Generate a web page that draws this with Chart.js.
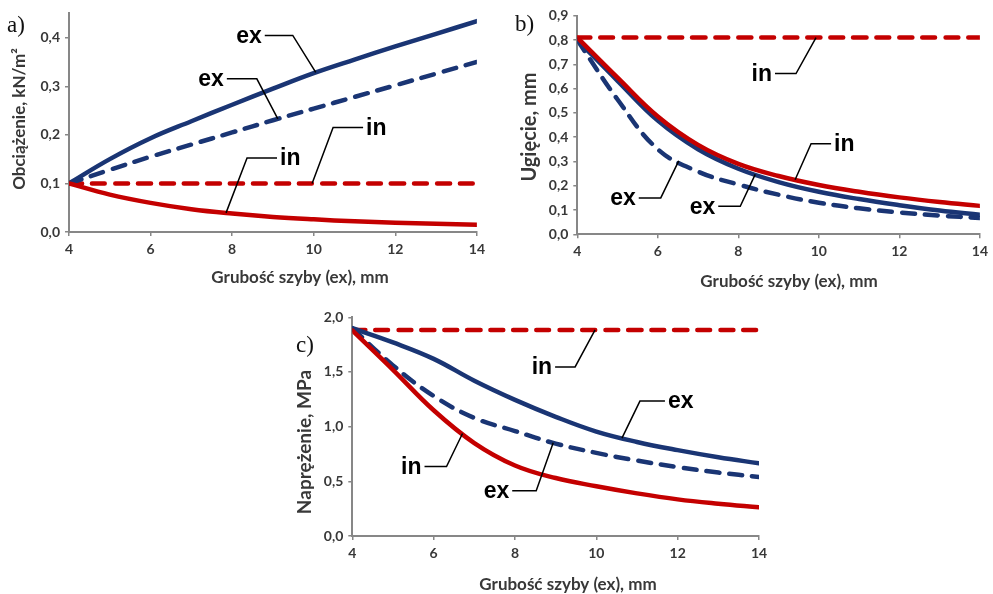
<!DOCTYPE html>
<html>
<head>
<meta charset="utf-8">
<script src="https://cdn.jsdelivr.net/npm/chart.js@4.4.0/dist/chart.umd.min.js"></script>
<style>
    html, body { margin: 0; padding: 0; background: #fff; }
    body { width: 993px; height: 594px; position: relative; overflow: hidden; }
    canvas { position: absolute; }
    .panel { position: absolute; font-family: 'Liberation Serif', 'Times New Roman', serif; font-size: 23px; color: #111; line-height: 1; }
</style>
</head>
<body>
<canvas id="chartA" width="490" height="300" style="left:0;top:0"></canvas>
<canvas id="chartB" width="503" height="300" style="left:490px;top:0"></canvas>
<canvas id="chartC" width="500" height="294" style="left:280px;top:300px"></canvas>
<div class="panel" style="left:7px;top:13px">a)</div>
<div class="panel" style="left:515px;top:12px">b)</div>
<div class="panel" style="left:296px;top:333px">c)</div>
<script>
// Grubość szyby (ex), mm
const thickness = [4, 5, 6, 7, 8, 9, 10, 11, 12, 13, 14];

// a) Obciążenie, kN/m2
const loadExSolid = [0.100, 0.150, 0.193, 0.228, 0.262, 0.295, 0.327, 0.355, 0.382, 0.408, 0.434];
const loadExDash  = [0.100, 0.128, 0.155, 0.180, 0.205, 0.230, 0.254, 0.278, 0.302, 0.326, 0.350];
const loadInSolid = [0.100, 0.077, 0.060, 0.047, 0.038, 0.031, 0.026, 0.022, 0.019, 0.017, 0.015];
const loadInDash  = [0.100, 0.100, 0.100, 0.100, 0.100, 0.100, 0.100, 0.100, 0.100, 0.100, 0.100];

// b) Ugięcie, mm
const deflExSolid = [0.800, 0.632, 0.468, 0.350, 0.270, 0.215, 0.175, 0.145, 0.120, 0.098, 0.080];
const deflExDash  = [0.800, 0.555, 0.350, 0.258, 0.205, 0.163, 0.130, 0.107, 0.090, 0.077, 0.067];
const deflInSolid = [0.810, 0.645, 0.485, 0.368, 0.290, 0.240, 0.203, 0.175, 0.152, 0.133, 0.117];
const deflInDash  = [0.810, 0.810, 0.810, 0.810, 0.810, 0.810, 0.810, 0.810, 0.810, 0.810, 0.810];

// c) Naprężenie, MPa
const stressExSolid = [1.90, 1.77, 1.62, 1.42, 1.245, 1.09, 0.955, 0.86, 0.785, 0.72, 0.665];
const stressExDash  = [1.90, 1.56, 1.28, 1.08, 0.96, 0.845, 0.76, 0.69, 0.63, 0.58, 0.54];
const stressInSolid = [1.88, 1.52, 1.15, 0.85, 0.645, 0.53, 0.455, 0.39, 0.335, 0.295, 0.262];
const stressInDash  = [1.885, 1.885, 1.885, 1.885, 1.885, 1.885, 1.885, 1.885, 1.885, 1.885, 1.885];

const xTicks = [4, 6, 8, 10, 12, 14];

const BLUE = '#1a3574';
const RED = '#c40000';
const AXIS = '#878787';
const TEXT = '#383838';
const LABEL_FONT = "bold 23px 'Liberation Sans', Arial, sans-serif";
const X_TITLE_FONT = "bold 17px Lato, 'Open Sans', sans-serif";
const TICK_FONT = { family: 'Lato', weight: 'bold', size: 14 };

const toPoints = vals => thickness.map((t, i) => ({ x: t, y: vals[i] }));

function series(label, vals, color, dashed) {
    return {
        label,
        data: toPoints(vals),
        borderColor: color,
        borderWidth: 4.5,
        borderDash: dashed ? [13, 10] : [],
        borderCapStyle: 'round',
        pointRadius: 0,
        fill: false,
        tension: 0.4
    };
}

function anchorOf(chart, label, xv) {
    const idx = chart.data.datasets.findIndex(d => d.label === label);
    const pts = chart.getDatasetMeta(idx).data;
    let i = 0;
    while (i < thickness.length - 2 && thickness[i + 1] < xv) i++;
    const t = (xv - thickness[i]) / (thickness[i + 1] - thickness[i]);
    return {
        x: pts[i].x + (pts[i + 1].x - pts[i].x) * t,
        y: pts[i].y + (pts[i + 1].y - pts[i].y) * t
    };
}

// axis titles and "ex"/"in" callouts
const annotate = {
    id: 'annotate',
    afterDraw(chart, args, opts) {
        const ctx = chart.ctx;
        ctx.save();
        ctx.fillStyle = TEXT;
        ctx.textAlign = 'center';
        ctx.textBaseline = 'middle';
        ctx.font = X_TITLE_FONT;
        ctx.fillText(opts.xTitle.text, opts.xTitle.cx, opts.xTitle.cy);
        ctx.save();
        ctx.font = `bold ${opts.yTitle.size}px Lato, 'Open Sans', sans-serif`;
        ctx.translate(opts.yTitle.cx, opts.yTitle.cy);
        ctx.rotate(-Math.PI / 2);
        ctx.fillText(opts.yTitle.text, 0, 0);
        ctx.restore();

        ctx.strokeStyle = '#000';
        ctx.lineWidth = 1.5;
        ctx.fillStyle = '#000';
        ctx.font = LABEL_FONT;
        opts.callouts.forEach(c => {
            const a = anchorOf(chart, c.series, c.x);
            const ex = a.x + c.d[0], ey = a.y + c.d[1];
            const endX = ex + c.len;
            ctx.beginPath();
            ctx.moveTo(a.x, a.y);
            ctx.lineTo(ex, ey);
            ctx.lineTo(endX, ey);
            ctx.stroke();
            ctx.textAlign = c.len < 0 ? 'right' : 'left';
            ctx.fillText(c.text, endX + (c.len < 0 ? -3 : 3), ey + 1);
        });
        ctx.restore();
    }
};

function makePanel(id, opts) {
    const step = opts.yStep;
    return new Chart(document.getElementById(id), {
        type: 'line',
        data: {
            datasets: [
                series('inSolid', opts.inSolid, RED, false),
                series('exSolid', opts.exSolid, BLUE, false),
                series('exDash', opts.exDash, BLUE, true),
                series('inDash', opts.inDash, RED, true)
            ]
        },
        options: {
            responsive: false,
            animation: false,
            layout: { padding: opts.padding },
            plugins: {
                legend: { display: false },
                tooltip: { enabled: false },
                annotate: {
                    xTitle: opts.xTitle,
                    yTitle: opts.yTitle,
                    callouts: opts.callouts
                }
            },
            scales: {
                x: {
                    type: 'linear',
                    min: 4,
                    max: 14,
                    afterBuildTicks: s => { s.ticks = xTicks.map(v => ({ value: v })); },
                    ticks: { color: TEXT, font: TICK_FONT, padding: 5, maxRotation: 0 },
                    grid: { drawOnChartArea: false, color: AXIS, lineWidth: 1.5, tickLength: 4 },
                    border: { color: AXIS, width: 2 },
                    afterFit: s => { s.height = opts.xHeight; }
                },
                y: {
                    min: 0,
                    max: opts.yMax,
                    ticks: {
                        stepSize: step,
                        color: TEXT,
                        font: TICK_FONT,
                        padding: 5,
                        callback: v => v.toFixed(1).replace('.', ',')
                    },
                    afterBuildTicks: s => {
                        s.ticks = s.ticks.filter(t => Math.abs(t.value / step - Math.round(t.value / step)) < 1e-6);
                    },
                    grid: { drawOnChartArea: false, color: AXIS, lineWidth: 1.5, tickLength: 4 },
                    border: { color: AXIS, width: 2 },
                    afterFit: s => { s.width = opts.yWidth; }
                }
            }
        },
        plugins: [annotate]
    });
}

makePanel('chartA', {
    exSolid: loadExSolid, exDash: loadExDash, inSolid: loadInSolid, inDash: loadInDash,
    yMax: 0.45, yStep: 0.1,
    padding: { left: 0, right: 13, top: 13, bottom: 0 },
    yWidth: 69, xHeight: 68,
    xTitle: { text: 'Grubość szyby (ex), mm', cx: 300, cy: 278 },
    yTitle: { text: 'Obciążenie, kN/m²', cx: 20, cy: 119, size: 17 },
    callouts: [
        { text: 'ex', series: 'exSolid', x: 10.05, d: [-23, -37], len: -28 },
        { text: 'ex', series: 'exDash', x: 9.12, d: [-21, -40], len: -30 },
        { text: 'in', series: 'inDash', x: 9.96, d: [21, -56], len: 30 },
        { text: 'in', series: 'inSolid', x: 7.85, d: [21, -55], len: 30 }
    ]
});

makePanel('chartB', {
    exSolid: deflExSolid, exDash: deflExDash, inSolid: deflInSolid, inDash: deflInDash,
    yMax: 0.9, yStep: 0.1,
    padding: { left: 0, right: 9.7, top: 15.7, bottom: 0 },
    yWidth: 87.3, xHeight: 65.7,
    xTitle: { text: 'Grubość szyby (ex), mm', cx: 299, cy: 282 },
    yTitle: { text: 'Ugięcie, mm', cx: 40, cy: 127, size: 20 },
    callouts: [
        { text: 'in', series: 'inDash', x: 9.93, d: [-20, 36], len: -21 },
        { text: 'in', series: 'inSolid', x: 9.41, d: [16, -36], len: 20 },
        { text: 'ex', series: 'exDash', x: 6.52, d: [-18, 37], len: -22 },
        { text: 'ex', series: 'exSolid', x: 8.42, d: [-15, 32], len: -22 }
    ]
});

makePanel('chartC', {
    exSolid: stressExSolid, exDash: stressExDash, inSolid: stressInSolid, inDash: stressInDash,
    yMax: 2.0, yStep: 0.5,
    padding: { left: 0, right: 21, top: 17.3, bottom: 0 },
    yWidth: 72.3, xHeight: 58,
    xTitle: { text: 'Grubość szyby (ex), mm', cx: 288, cy: 285 },
    yTitle: { text: 'Naprężenie, MPa', cx: 25, cy: 142, size: 19 },
    callouts: [
        { text: 'in', series: 'inDash', x: 9.97, d: [-20, 37], len: -20 },
        { text: 'ex', series: 'exSolid', x: 10.63, d: [18, -37], len: 25 },
        { text: 'in', series: 'inSolid', x: 6.71, d: [-16, 33], len: -22 },
        { text: 'ex', series: 'exDash', x: 8.94, d: [-17, 48], len: -24 }
    ]
});
</script>
</body>
</html>
